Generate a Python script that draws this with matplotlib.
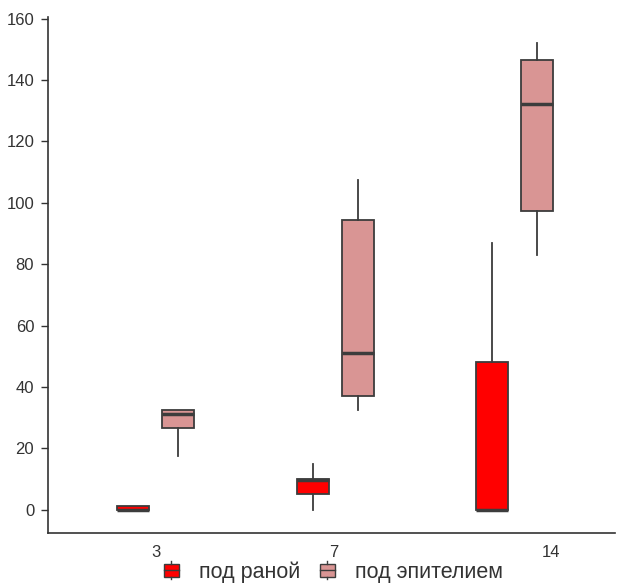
import matplotlib
matplotlib.use("Agg")
import matplotlib.pyplot as plt
from matplotlib.legend_handler import HandlerBase
from matplotlib.patches import Rectangle
from matplotlib.lines import Line2D

plt.rcParams["font.family"] = ["Liberation Sans", "DejaVu Sans"]

days = ["3", "7", "14"]
series = ["под раной", "под эпителием"]
colors = ["#ff0000", "#d99594"]

# whislo, q1, med, q3, whishi for each day
wound = [
    [0.0, 0.0, 0.0, 1.4, 1.4],
    [0.0, 5.2, 9.8, 10.0, 15.0],
    [0.0, 0.0, 0.0, 48.2, 87.0],
]
epith = [
    [17.6, 26.6, 31.2, 32.6, 32.6],
    [32.6, 37.1, 51.2, 94.5, 107.5],
    [83.0, 97.2, 132.3, 146.6, 152.0],
]

edge = "#3c3c3c"


def to_stats(rows):
    keys = ["whislo", "q1", "med", "q3", "whishi"]
    return [dict(zip(keys, r), fliers=[]) for r in rows]


fig = plt.figure(figsize=(6.17, 5.85), dpi=100)
ax = fig.add_axes([0.078, 0.089, 0.919, 0.882])

offset = 0.125
width = 0.178
for data, col, sh in [(wound, colors[0], -offset), (epith, colors[1], offset)]:
    pos = [i + sh for i in range(len(days))]
    ax.bxp(to_stats(data), positions=pos, widths=width, patch_artist=True,
           showfliers=False, showcaps=False,
           boxprops=dict(facecolor=col, edgecolor=edge, linewidth=1.3),
           medianprops=dict(color=edge, linewidth=2.5),
           whiskerprops=dict(color=edge, linewidth=1.3))

ax.set_xlim(-0.6, 2.56)
ax.set_ylim(-7.5, 160.5)
ax.set_yticks(range(0, 161, 20))
# tick labels sit where the original put them
ax.set_xticks([0.0, 0.99, 2.2])
ax.set_xticklabels(days)
ax.tick_params(axis="x", length=0, pad=9, labelsize=12, colors="#333333")
ax.tick_params(axis="y", length=5, width=1, pad=5, labelsize=12,
               colors="#333333")
for s in ["top", "right"]:
    ax.spines[s].set_visible(False)
for s in ["left", "bottom"]:
    ax.spines[s].set_color("#333333")
    ax.spines[s].set_linewidth(1.2)


class BoxHandler(HandlerBase):
    def create_artists(self, legend, orig, xd, yd, w, h, fontsize, trans):
        cx = xd + w / 2
        bw = w * 0.9
        bh = h * 0.9
        y0 = yd + (h - bh) / 2
        rect = Rectangle((cx - bw / 2, y0), bw, bh, facecolor=orig.get_facecolor(),
                         edgecolor=edge, linewidth=1, transform=trans)
        mid = Line2D([cx - bw / 2, cx + bw / 2], [y0 + bh / 2] * 2,
                     color=edge, linewidth=1, transform=trans)
        top = Line2D([cx, cx], [y0 + bh, y0 + bh + h * 0.15], color=edge,
                     linewidth=1, transform=trans)
        bot = Line2D([cx, cx], [y0 - h * 0.15, y0], color=edge,
                     linewidth=1, transform=trans)
        return [rect, mid, top, bot]


handles = [Rectangle((0, 0), 1, 1, facecolor=c) for c in colors]
fig.legend(handles, series, loc="center", bbox_to_anchor=(333 / 617, 0.022),
           ncol=2, frameon=False, fontsize=15.5, handlelength=0.75,
           handletextpad=0.9, columnspacing=0.9,
           handler_map={Rectangle: BoxHandler()}, labelcolor="#333333")

fig.savefig("out.png", dpi=100)
